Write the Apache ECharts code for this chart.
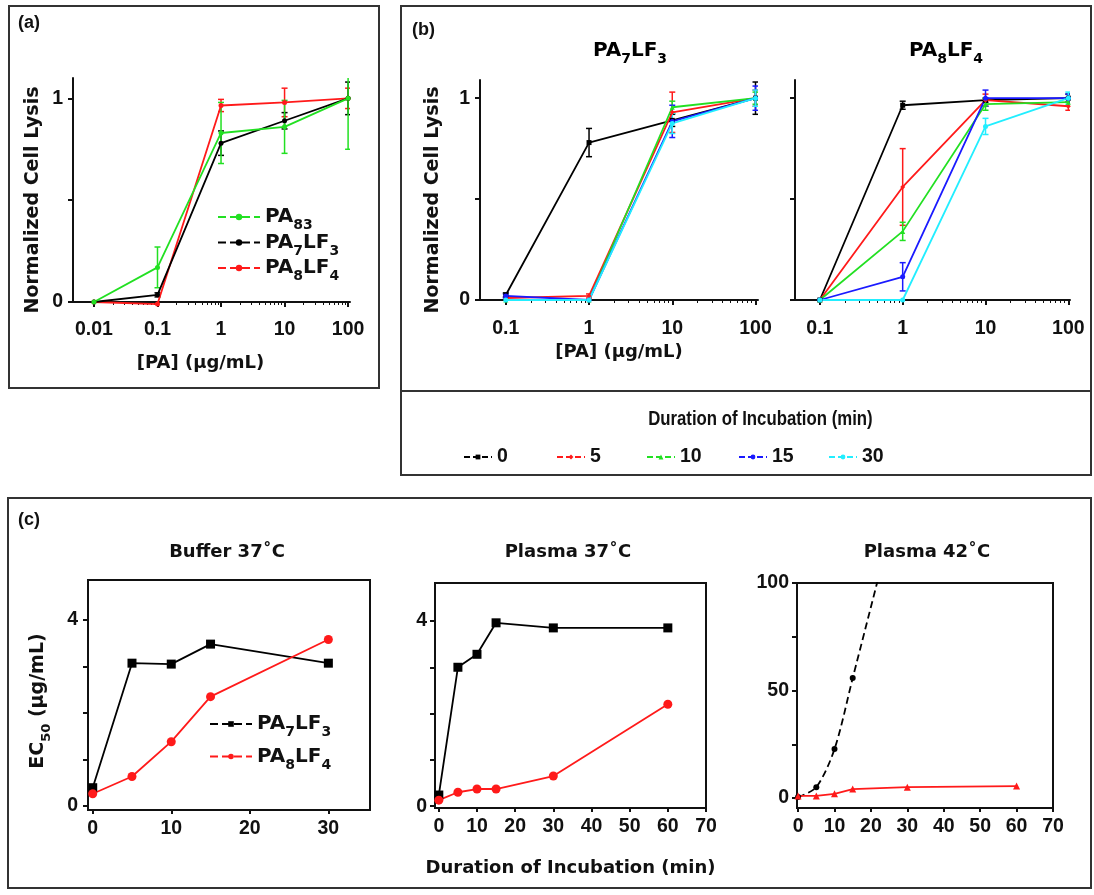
<!DOCTYPE html>
<html>
<head>
<meta charset="utf-8">
<script src="https://cdn.jsdelivr.net/npm/echarts@6/dist/echarts.min.js"></script>
<style>
  html, body { margin: 0; padding: 0; background: #fff; }
  #chart { width: 1094px; height: 895px; }
</style>
</head>
<body>
<div id="chart"></div>
<script>
const FONT = 'Liberation Sans'
const WIDE = 'DejaVu Sans'

// (a) normalized lysis vs [PA]
const concA = [0.01, 0.1, 1, 10, 100]
const aPA83 = [0.0, 0.17, 0.83, 0.86, 1.0]
const aPA83Err = [0, 0.1, 0.15, 0.13, 0.25]
const aPA7LF3 = [0.0, 0.035, 0.78, 0.89, 1.0]
const aPA7LF3Err = [0, 0.01, 0.06, 0.04, 0.08]
const aPA8LF4 = [0.0, -0.01, 0.965, 0.98, 1.0]
const aPA8LF4Err = [0, 0, 0.03, 0.07, 0.05]

// (b) lysis after incubation, PA7LF3 (left) and PA8LF4 (right)
const concB = [0.1, 1, 10, 100]
const durations = ['0', '5', '10', '15', '30']
const b7_0 = [0.025, 0.78, 0.89, 1.0]
const b7_5 = [0.01, 0.02, 0.93, 1.0]
const b7_10 = [0.0, 0.0, 0.955, 1.0]
const b7_15 = [0.02, 0.0, 0.885, 1.0]
const b7_30 = [0.0, 0.0, 0.875, 1.0]
const b7_0Err = [0.01, 0.07, 0.03, 0.08]
const b7_5Err = [0, 0.01, 0.1, 0.04]
const b7_10Err = [0, 0, 0.03, 0.03]
const b7_15Err = [0.01, 0, 0.08, 0.06]
const b7_30Err = [0, 0, 0.05, 0.04]
const b8_0 = [0.0, 0.965, 0.99, 1.0]
const b8_5 = [0.0, 0.56, 0.99, 0.96]
const b8_10 = [0.0, 0.34, 0.97, 0.98]
const b8_15 = [0.0, 0.115, 1.0, 1.0]
const b8_30 = [0.0, 0.0, 0.86, 1.0]
const b8_0Err = [0, 0.02, 0.01, 0.02]
const b8_5Err = [0, 0.19, 0.03, 0.02]
const b8_10Err = [0, 0.045, 0.03, 0.02]
const b8_15Err = [0, 0.07, 0.04, 0.02]
const b8_30Err = [0, 0, 0.04, 0.03]

// (c) EC50 vs incubation time
const minBuffer = [0, 5, 10, 15, 30]
const bufPA7LF3 = [0.39, 3.07, 3.05, 3.48, 3.07]
const bufPA8LF4 = [0.26, 0.63, 1.38, 2.35, 3.58]
const minPlasma = [0, 5, 10, 15, 30, 60]
const p37PA7LF3 = [0.24, 3.0, 3.28, 3.96, 3.85, 3.85]
const p37PA8LF4 = [0.13, 0.30, 0.37, 0.37, 0.65, 2.2]
const min42Black = [0, 5, 10, 15, 30]
const p42PA7LF3 = [0.5, 5.1, 22.8, 55.8, 155]
const p42PA8LF4 = [1.0, 1.0, 2.0, 4.2, 5.1, 5.6]

const durColors = ['#000000', '#ff1a1a', '#22e022', '#1a1aff', '#22eeff']
const durSymbols = ['rect', 'diamond', 'triangle', 'circle', 'circle']
const durLegendLeft = [458, 551, 641, 733, 823]

const labelText = {
  PA83: '{m|PA}{s|83}',
  PA7LF3: '{m|PA}{s|7}{m|LF}{s|3}',
  PA8LF4: '{m|PA}{s|8}{m|LF}{s|4}'
}
const rich = (size, family) => ({
  m: { fontSize: size, fontWeight: 'bold', fontFamily: family || WIDE, color: '#111' },
  s: { fontSize: Math.round(size * 0.7), fontWeight: 'bold', fontFamily: family || WIDE, color: '#111', padding: [Math.round(size * 0.85), 0, 0, 0] }
})

const log10 = v => Math.log10(v)
const fmtPow = v => String(+Math.pow(10, v).toPrecision(3))
const minorTicks = conc => {
  const out = []
  conc.slice(0, -1).forEach(c => { for (let k = 2; k < 10; k++) out.push(Math.log10(c * k)) })
  return out
}

const axisLine = { show: true, onZero: false, lineStyle: { color: '#111', width: 2 } }
const tick = (len) => ({ length: len, lineStyle: { color: '#111', width: 2 } })
const tickLabel = (margin) => ({ color: '#111', fontSize: 19.5, fontWeight: 'bold', fontFamily: FONT, margin })
const nameStyle = { color: '#111', fontSize: 18, fontWeight: 'bold', fontFamily: WIDE }

function logX(grid, min, max, conc, margin, name, nameGap, namePad) {
  return {
    type: 'value', gridIndex: grid, min, max, axisLine, splitLine: { show: false },
    axisTick: { ...tick(5), customValues: conc.map(log10) },
    axisLabel: { ...tickLabel(margin), customValues: conc.map(log10), formatter: fmtPow },
    name, nameLocation: 'middle', nameGap, nameTextStyle: { ...nameStyle, padding: namePad || 0 }
  }
}
function logXMinor(grid, min, max, conc) {
  return {
    type: 'value', gridIndex: grid, min, max, position: 'bottom',
    axisLine: { show: false }, splitLine: { show: false }, axisLabel: { show: false },
    axisTick: { length: 3, lineStyle: { color: '#111', width: 1 }, customValues: minorTicks(conc) }
  }
}
function linX(grid, min, max, ticks, margin, name, nameGap) {
  return {
    type: 'value', gridIndex: grid, min, max, axisLine, splitLine: { show: false },
    axisTick: { ...tick(4), customValues: ticks },
    axisLabel: { ...tickLabel(margin), customValues: ticks },
    name, nameLocation: 'middle', nameGap, nameTextStyle: nameStyle
  }
}
function linY(grid, min, max, ticks, labels, margin, name, nameGap, namePad, nameRich) {
  return {
    type: 'value', gridIndex: grid, min, max, axisLine, splitLine: { show: false },
    axisTick: { ...tick(5), customValues: ticks },
    axisLabel: { ...tickLabel(margin), customValues: labels },
    name, nameLocation: 'middle', nameGap,
    nameTextStyle: { ...nameStyle, fontSize: 19, padding: namePad || 0, rich: nameRich }
  }
}

function errRender(params, api) {
  const e = api.value(2)
  if (!e) return null
  const x = api.value(0), y = api.value(1)
  const hi = api.coord([x, y + e]), lo = api.coord([x, y - e])
  const w = 3
  const style = { stroke: api.visual('color'), lineWidth: 1.5 }
  return {
    type: 'group', children: [
      { type: 'line', shape: { x1: hi[0], y1: hi[1], x2: lo[0], y2: lo[1] }, style },
      { type: 'line', shape: { x1: hi[0] - w, y1: hi[1], x2: hi[0] + w, y2: hi[1] }, style },
      { type: 'line', shape: { x1: lo[0] - w, y1: lo[1], x2: lo[0] + w, y2: lo[1] }, style }
    ]
  }
}

function lineS(name, xs, ys, color, symbol, size, xi, yi, extra) {
  return Object.assign({
    type: 'line', name, xAxisIndex: xi, yAxisIndex: yi,
    data: xs.map((x, i) => [x, ys[i]]),
    symbol, symbolSize: size, clip: false, z: 3,
    lineStyle: { width: 1.8, color }, itemStyle: { color }
  }, extra || {})
}
function errS(xs, ys, es, color, xi, yi) {
  return {
    type: 'custom', xAxisIndex: xi, yAxisIndex: yi, clip: true, z: 2, silent: true,
    data: xs.map((x, i) => [x, ys[i], es[i]]),
    renderItem: errRender, itemStyle: { color }
  }
}

const xA = concA.map(log10)
const xB = concB.map(log10)
const series = [
  lineS('a_PA8LF4', xA, aPA8LF4, '#ff1a1a', 'circle', 5, 0, 0),
  lineS('a_PA7LF3', xA, aPA7LF3, '#000000', 'circle', 5, 0, 0),
  lineS('a_PA83', xA, aPA83, '#22e022', 'circle', 5, 0, 0),
  errS(xA, aPA8LF4, aPA8LF4Err, '#ff1a1a', 0, 0),
  errS(xA, aPA7LF3, aPA7LF3Err, '#000000', 0, 0),
  errS(xA, aPA83, aPA83Err, '#22e022', 0, 0)
]
const b7Vals = [b7_0, b7_5, b7_10, b7_15, b7_30]
const b7Errs = [b7_0Err, b7_5Err, b7_10Err, b7_15Err, b7_30Err]
const b8Vals = [b8_0, b8_5, b8_10, b8_15, b8_30]
const b8Errs = [b8_0Err, b8_5Err, b8_10Err, b8_15Err, b8_30Err]
durations.forEach((d, i) => {
  series.push(lineS('b_' + d, xB, b7Vals[i], durColors[i], durSymbols[i], 5, 2, 1))
  series.push(errS(xB, b7Vals[i], b7Errs[i], durColors[i], 2, 1))
  series.push(lineS('b_' + d, xB, b8Vals[i], durColors[i], durSymbols[i], 5, 4, 2))
  series.push(errS(xB, b8Vals[i], b8Errs[i], durColors[i], 4, 2))
})
series.push(
  lineS('c_PA7LF3', minBuffer, bufPA7LF3, '#000000', 'rect', 9, 6, 3),
  lineS('c_PA8LF4', minBuffer, bufPA8LF4, '#ff1a1a', 'circle', 9, 6, 3),
  lineS('c_PA7LF3', minPlasma, p37PA7LF3, '#000000', 'rect', 9, 7, 4),
  lineS('c_PA8LF4', minPlasma, p37PA8LF4, '#ff1a1a', 'circle', 9, 7, 4),
  lineS('c_PA7LF3', min42Black, p42PA7LF3, '#000000', 'circle', 6, 8, 5,
    { clip: true, smooth: 0.3, lineStyle: { width: 1.8, color: '#000', type: [7, 4] } }),
  lineS('c_PA8LF4', minPlasma, p42PA8LF4, '#ff1a1a', 'triangle', 7, 8, 5)
)

const durLegends = durations.map((d, i) => ({
  data: ['b_' + d], left: durLegendLeft[i], top: 442,
  itemWidth: 28, itemHeight: 6, selectedMode: false,
  lineStyle: { type: [6, 3] },
  formatter: n => n.split('_')[1],
  textStyle: { color: '#111', fontSize: 19.5, fontWeight: 'bold', fontFamily: FONT }
}))

const chart = echarts.init(document.getElementById('chart'))
chart.setOption({
  animation: false,
  backgroundColor: '#fff',
  grid: [
    { left: 73, top: 78, width: 277, height: 224 },
    { left: 480, top: 80, width: 278, height: 220 },
    { left: 795, top: 80, width: 275, height: 220 },
    { left: 88, top: 580, width: 282, height: 230, show: true, borderColor: '#111', borderWidth: 2 },
    { left: 435, top: 583, width: 271, height: 225, show: true, borderColor: '#111', borderWidth: 2 },
    { left: 797, top: 583, width: 256, height: 225, show: true, borderColor: '#111', borderWidth: 2 }
  ],
  xAxis: [
    logX(0, -2.33, 2.03, concA, 18, '[PA] (μg/mL)', 52, [0, 22, 0, 0]),
    logXMinor(0, -2.33, 2.03, concA),
    logX(1, -1.31, 2.03, concB, 19, '[PA] (μg/mL)', 43),
    logXMinor(1, -1.31, 2.03, concB),
    logX(2, -1.30, 2.02, concB, 19, '', 0),
    logXMinor(2, -1.30, 2.02, concB),
    linX(3, -0.6, 35.3, [0, 10, 20, 30], 9, '', 0),
    linX(4, -1, 70, [0, 10, 20, 30, 40, 50, 60, 70], 9, 'Duration of Incubation (min)', 51),
    linX(5, -0.3, 70, [0, 10, 20, 30, 40, 50, 60, 70], 9, '', 0)
  ],
  yAxis: [
    linY(0, 0, 1.1, [0, 0.5, 1], [0, 1], 10, 'Normalized Cell Lysis', 30, [0, 20, 0, 0]),
    linY(1, 0, 1.09, [0, 0.5, 1], [0, 1], 10, 'Normalized Cell Lysis', 37, [0, 20, 0, 0]),
    linY(2, 0, 1.09, [0, 0.5, 1], [], 10, '', 0),
    linY(3, -0.09, 4.86, [0, 1, 2, 3, 4], [0, 4], 10, '{m|EC}{s|50}{m| (μg/mL)}', 35, [0, 12, 0, 0], rich(19)),
    linY(4, -0.04, 4.82, [0, 1, 2, 3, 4], [0, 4], 8, '', 0),
    linY(5, -4.6, 100, [0, 25, 50, 75, 100], [0, 50, 100], 8, '', 0)
  ],
  legend: [
    {
      data: ['a_PA83', 'a_PA7LF3', 'a_PA8LF4'], orient: 'vertical', left: 212, top: 202,
      itemWidth: 42, itemHeight: 8, itemGap: 0, selectedMode: false,
      lineStyle: { type: [8, 4] },
      formatter: n => labelText[n.split('_')[1]], textStyle: { rich: rich(20) }
    },
    ...durLegends,
    {
      data: ['c_PA7LF3', 'c_PA8LF4'], orient: 'vertical', left: 204, top: 709,
      itemWidth: 42, itemHeight: 7, itemGap: 7, selectedMode: false,
      lineStyle: { type: [8, 4] },
      formatter: n => labelText[n.split('_')[1]], textStyle: { rich: rich(20) }
    }
  ],
  graphic: [
    { type: 'rect', shape: { x: 9, y: 6, width: 370, height: 382 }, style: { fill: 'none', stroke: '#333', lineWidth: 2 } },
    { type: 'rect', shape: { x: 401, y: 6, width: 690, height: 385 }, style: { fill: 'none', stroke: '#333', lineWidth: 2 } },
    { type: 'rect', shape: { x: 401, y: 391, width: 690, height: 84 }, style: { fill: 'none', stroke: '#333', lineWidth: 2 } },
    { type: 'rect', shape: { x: 8, y: 498, width: 1083, height: 390 }, style: { fill: 'none', stroke: '#333', lineWidth: 2 } },
    { type: 'text', x: 18, y: 14, style: { text: '(a)', font: 'bold 18px ' + FONT, fill: '#111' } },
    { type: 'text', x: 412, y: 21, style: { text: '(b)', font: 'bold 18px ' + FONT, fill: '#111' } },
    { type: 'text', x: 18, y: 511, style: { text: '(c)', font: 'bold 18px ' + FONT, fill: '#111' } },
    { type: 'text', x: 630, y: 51, style: { text: labelText.PA7LF3, rich: rich(20), align: 'center', verticalAlign: 'middle' } },
    { type: 'text', x: 946, y: 51, style: { text: labelText.PA8LF4, rich: rich(20), align: 'center', verticalAlign: 'middle' } },
    { type: 'text', x: 667, y: 420, scaleX: 0.86, originX: 667, originY: 420, style: { text: 'Duration of Incubation (min)', font: 'bold 19.5px ' + FONT, fill: '#111', align: 'center', verticalAlign: 'middle' } },
    { type: 'text', x: 227, y: 552, style: { text: 'Buffer 37˚C', font: 'bold 18px ' + WIDE, fill: '#111', align: 'center', verticalAlign: 'middle' } },
    { type: 'text', x: 568, y: 552, style: { text: 'Plasma 37˚C', font: 'bold 18px ' + WIDE, fill: '#111', align: 'center', verticalAlign: 'middle' } },
    { type: 'text', x: 927, y: 552, style: { text: 'Plasma 42˚C', font: 'bold 18px ' + WIDE, fill: '#111', align: 'center', verticalAlign: 'middle' } }
  ],
  series
})
</script>
</body>
</html>
